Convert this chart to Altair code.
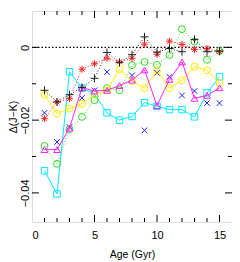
import altair as alt
import pandas as pd

ages = list(range(1, 16))

plus_vals = [-0.0118, -0.0150, -0.0130, -0.0110, -0.0085, -0.0014, -0.0042, -0.0020,
             0.0029, -0.0013, -0.0003, -0.0012, 0.0022, -0.0012, -0.0010]
star_vals = [-0.0196, -0.0150, -0.0141, -0.0060, -0.0045, -0.0030, -0.0040, -0.0030,
             0.0009, -0.0019, 0.0017, 0.0008, -0.0006, -0.0003, -0.0012]
green_vals = [-0.0271, -0.0320, -0.0225, -0.0191, -0.0145, -0.0112, -0.0118, -0.0049,
              -0.0040, -0.0048, -0.0021, 0.0050, 0.0016, -0.0034, -0.0010]
yellow_vals = [-0.0130, -0.0182, -0.0168, -0.0155, -0.0130, -0.0118, -0.0060, -0.0093,
               -0.0112, -0.0064, -0.0112, -0.0090, -0.0053, -0.0063, -0.0098]
magenta_vals = [-0.0281, -0.0281, -0.0222, -0.0111, -0.0120, -0.0118, -0.0105, -0.0090,
                -0.0062, -0.0160, -0.0088, -0.0040, -0.0140, -0.0132, -0.0111]
cyan_vals = [-0.0339, -0.0403, -0.0067, -0.0112, -0.0128, -0.0180, -0.0200, -0.0190,
             -0.0152, -0.0162, -0.0171, -0.0171, -0.0191, -0.0125, -0.0081]
blue_vals = [-0.0180, -0.0260, -0.0219, -0.0139, -0.0118, -0.0068, None, -0.0077,
             -0.0228, -0.0070, -0.0081, -0.0132, -0.0120, -0.0153, -0.0153]

x_ticks_major = [5, 10, 15]
x_ticks_minor = [1, 2, 3, 4, 6, 7, 8, 9, 11, 12, 13, 14]
y_ticks_major = [0, -0.02, -0.04]
y_ticks_minor = [-0.01, -0.03]
x_labels = [0, 5, 10, 15]
y_labels = [0, -0.02, -0.04]

W, H = 200, 211
FONT = "Liberation Sans"

PLUS = "M-1,0L1,0M0,-1L0,1"
STAR = "M-1,0L1,0M0,-1L0,1M-0.7,-0.7L0.7,0.7M-0.7,0.7L0.7,-0.7"
XSHAPE = "M-1,-1L1,1M-1,1L1,-1"

series = [
    # values, color, shape, size, line style
    (blue_vals, "#2020ff", XSHAPE, 32, "none"),
    (cyan_vals, "#00e8ff", "square", 42, "solid"),
    (green_vals, "#33dd22", "circle", 48, "dot"),
    (yellow_vals, "#ffee00", "circle", 48, "solid"),
    (magenta_vals, "#ff22ee", "triangle-up", 45, "solid"),
    (star_vals, "#ff2222", STAR, 49, "dot"),
    (plus_vals, "#222222", PLUS, 64, "dot"),
]

xscale = alt.Scale(domain=[0, 16], nice=False, zero=False)
yscale = alt.Scale(domain=[-0.048, 0.01], nice=False, zero=False)

xaxis = alt.Axis(values=x_labels, ticks=False, domain=False, grid=False,
                 labelFont=FONT, labelFontSize=11, labelPadding=7.5, labelColor="black",
                 title="Age (Gyr)", titleFont=FONT, titleFontSize=10.5, titleFontWeight="normal",
                 titleColor="black", titleY=32, titleBaseline="middle")
yaxis = alt.Axis(values=y_labels, ticks=False, domain=False, grid=False,
                 labelFont=FONT, labelFontSize=11, labelAngle=270, labelAlign="center",
                 labelBaseline="alphabetic", labelPadding=4, labelColor="black",
                 labelExpr="datum.value == 0 ? '0' : replace(format(datum.value, '.2f'), '-', '\u2212')",
                 title="\u0394(J\u2212K)", titleFont=FONT, titleFontSize=10.5,
                 titleFontWeight="normal", titleColor="black", titleAngle=270,
                 titleX=-18.5, titleY=H / 2, titleAlign="center", titleBaseline="middle")

X = lambda: alt.X("age:Q", scale=xscale, axis=xaxis)
Y = lambda: alt.Y("val:Q", scale=yscale, axis=yaxis)

layers = []

zero_df = pd.DataFrame({"val": [0.0]})
layers.append(alt.Chart(zero_df).mark_rule(color="black", strokeDash=[1.5, 2], strokeWidth=1.3)
              .encode(y=Y()))

for vals, color, shape, size, dash in series:
    df = pd.DataFrame({"age": ages, "val": vals}).dropna()
    base = alt.Chart(df)
    if dash != "none":
        kw = dict(color=color, strokeWidth=1)
        if dash == "dot":
            kw["strokeDash"] = [1, 2]
        layers.append(base.mark_line(**kw).encode(x=X(), y=Y()))
    layers.append(base.mark_point(shape=shape, filled=False, color=color, size=size,
                                  strokeWidth=1, opacity=1).encode(x=X(), y=Y()))

tick_col = "black"
xt_major = pd.DataFrame({"age": x_ticks_major})
xt_minor = pd.DataFrame({"age": x_ticks_minor})
yt_major = pd.DataFrame({"val": y_ticks_major})
yt_minor = pd.DataFrame({"val": y_ticks_minor})

for df, ln in ((xt_major, 7), (xt_minor, 4)):
    layers.append(alt.Chart(df).mark_rule(color=tick_col, strokeWidth=1)
                  .encode(x=X(), y=alt.value(H), y2=alt.value(H - ln)))
    layers.append(alt.Chart(df).mark_rule(color=tick_col, strokeWidth=1)
                  .encode(x=X(), y=alt.value(0), y2=alt.value(ln)))
for df, ln in ((yt_major, 7), (yt_minor, 4)):
    layers.append(alt.Chart(df).mark_rule(color=tick_col, strokeWidth=1)
                  .encode(y=Y(), x=alt.value(0), x2=alt.value(ln)))
    layers.append(alt.Chart(df).mark_rule(color=tick_col, strokeWidth=1)
                  .encode(y=Y(), x=alt.value(W), x2=alt.value(W - ln)))

chart = alt.layer(*layers).properties(
    width=W, height=H,
    autosize=alt.AutoSizeParams(type="none"),
    padding={"left": 24, "top": 3, "right": 0, "bottom": 40},
).configure_view(stroke="black", strokeWidth=1.2).configure(background="white")

chart.save("out.html", embed_options={"renderer": "svg", "actions": False})
